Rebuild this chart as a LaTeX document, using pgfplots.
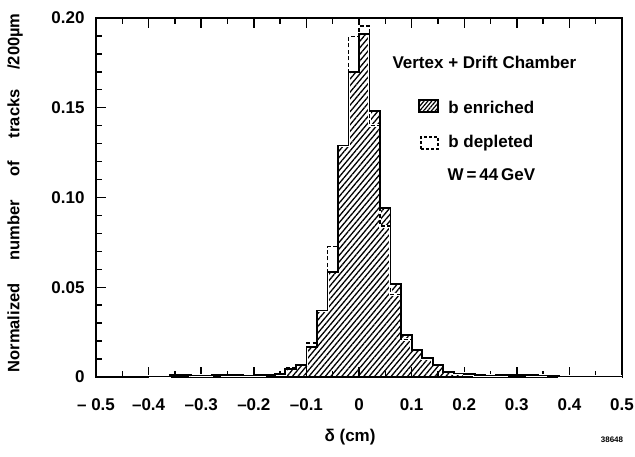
\documentclass[border=0pt]{standalone}
\usepackage{pgfplots}
\pgfplotsset{compat=1.18}
\usepackage{pgfplotstable}
\usepackage{fontspec}
\setmainfont{Liberation Sans}[BoldFont={* Bold}]
\usetikzlibrary{patterns.meta}

% Impact parameter distribution, 200 um bins (left bin edge, b enriched, b depleted)
\pgfplotstableread{
x      enr     dep
-0.50  0.0000  0.0000
-0.48  0.0000  0.0000
-0.46  0.0000  0.0000
-0.44  0.0000  0.0000
-0.42  0.0000  0.0000
-0.40  0.0003  0.0003
-0.38  0.0003  0.0003
-0.36  0.0012  0.0012
-0.34  0.0012  0.0012
-0.32  0.0008  0.0008
-0.30  0.0008  0.0008
-0.28  0.0012  0.0012
-0.26  0.0010  0.0010
-0.24  0.0010  0.0010
-0.22  0.0008  0.0008
-0.20  0.0010  0.0010
-0.18  0.0012  0.0012
-0.16  0.0015  0.0015
-0.14  0.0045  0.0050
-0.12  0.0067  0.0067
-0.10  0.0165  0.0190
-0.08  0.0370  0.0370
-0.06  0.0587  0.0726
-0.04  0.1290  0.1290
-0.02  0.1700  0.1896
 0.00  0.1910  0.1955
 0.02  0.1480  0.1400
 0.04  0.0940  0.0840
 0.06  0.0520  0.0460
 0.08  0.0234  0.0210
 0.10  0.0150  0.0150
 0.12  0.0104  0.0104
 0.14  0.0067  0.0067
 0.16  0.0030  0.0030
 0.18  0.0020  0.0020
 0.20  0.0015  0.0015
 0.22  0.0010  0.0010
 0.24  0.0008  0.0008
 0.26  0.0010  0.0010
 0.28  0.0012  0.0012
 0.30  0.0012  0.0012
 0.32  0.0010  0.0010
 0.34  0.0008  0.0008
 0.36  0.0005  0.0005
 0.38  0.0003  0.0003
 0.40  0.0003  0.0003
 0.42  0.0003  0.0003
 0.44  0.0003  0.0003
 0.46  0.0003  0.0003
 0.48  0.0003  0.0003
 0.50  0.0003  0.0003
}\hist

\begin{document}
\begin{tikzpicture}
\bfseries
\path[use as bounding box] (-96pt,-80pt) rectangle (539pt,377pt);
\begin{axis}[
  at={(0,0)}, anchor=south west,
  scale only axis, width=526pt, height=359pt,
  xmin=-0.5, xmax=0.5, ymin=0, ymax=0.2,
  axis line style={line width=1.6pt},
  every tick/.style={black, line width=1.4pt},
  tick align=inside,
  major tick length=10pt, minor tick length=6pt,
  xtick={-0.5,-0.4,-0.3,-0.2,-0.1,0,0.1,0.2,0.3,0.4,0.5},
  xticklabels={– 0.5,–0.4,–0.3,–0.2,–0.1,0,0.1,0.2,0.3,0.4,0.5},
  minor xtick={-0.45,-0.35,-0.25,-0.15,-0.05,0.05,0.15,0.25,0.35,0.45},
  ytick={0,0.05,0.1,0.15,0.2},
  yticklabels={0,0.05,0.10,0.15,0.20},
  minor ytick={0.01,0.02,0.03,0.04,0.06,0.07,0.08,0.09,0.11,0.12,0.13,0.14,0.16,0.17,0.18,0.19},
  xtick pos=both, ytick pos=left,
  /pgf/number format/assume math mode=true,
  ticklabel style={font=\fontsize{17}{19}\selectfont\bfseries},
  xticklabel style={yshift=-18pt},
  yticklabel style={xshift=-8pt},
  clip=false,
]
% b enriched: hatched histogram
\addplot[const plot, draw=none,
  pattern={Lines[angle=50, distance=4.2pt, line width=1.3pt]}]
  table[x=x, y=enr] {\hist} \closedcycle;
% b depleted: dashed outline over a white underlay
\addplot[const plot, white, line width=2.6pt] table[x=x, y=dep] {\hist};
\addplot[const plot, black, line width=1.6pt, dash pattern=on 4pt off 2.5pt]
  table[x=x, y=dep] {\hist};
% b enriched outline
\addplot[const plot, black, line width=1.8pt] table[x=x, y=enr] {\hist};

% key
\node[anchor=west, font=\fontsize{17}{19}\selectfont\bfseries] at (axis cs:0.057,0.175) {Vertex + Drift Chamber};
\fill[pattern={Lines[angle=50, distance=3pt, line width=1.2pt]}] (axis cs:0.114,0.1476) rectangle (axis cs:0.150,0.1543);
\draw[line width=1.5pt] (axis cs:0.114,0.1476) rectangle (axis cs:0.150,0.1543);
\node[anchor=west, font=\fontsize{17}{19}\selectfont\bfseries] at (axis cs:0.163,0.1504) {b enriched};
\draw[line width=1.5pt, dash pattern=on 3pt off 2pt] (axis cs:0.118,0.1270) rectangle (axis cs:0.150,0.1337);
\node[anchor=west, font=\fontsize{17}{19}\selectfont\bfseries] at (axis cs:0.163,0.1304) {b depleted};
\node[anchor=west, font=\fontsize{17}{19}\selectfont\bfseries] at (axis cs:0.162,0.1125) {W\,=\,44\,GeV};

% axis titles
\node[rotate=90, font=\fontsize{16.5}{18}\selectfont\bfseries] at (rel axis cs:-0.154,0.513)
  {Normalized\hspace{1.4em}number\hspace{1.4em}of\hspace{1.4em}tracks\hspace{1.2em}/200µm};
\node[font=\fontsize{17}{19}\selectfont\bfseries] at (rel axis cs:0.483,-0.167) {δ (cm)};
\node[font=\fontsize{8}{9}\selectfont\bfseries] at (rel axis cs:0.981,-0.175) {38648};
\end{axis}
\end{tikzpicture}
\end{document}
